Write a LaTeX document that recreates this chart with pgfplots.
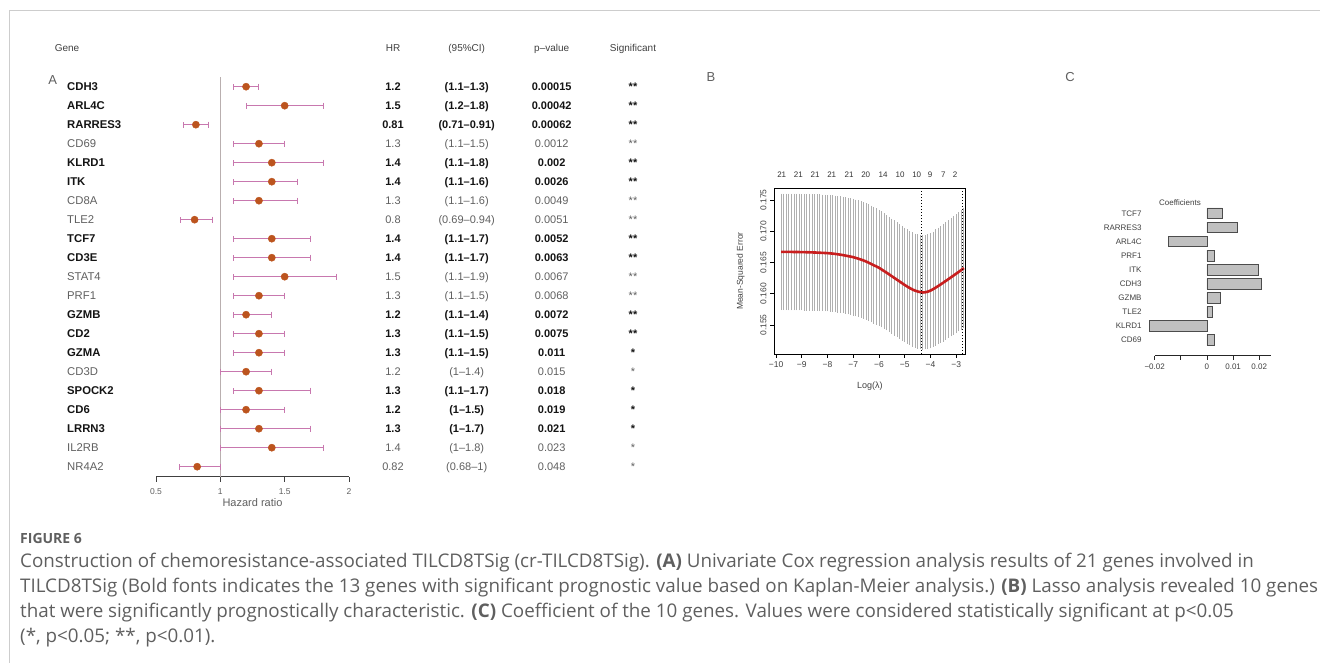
\documentclass[border=0pt]{standalone}
\usepackage{fontspec}
\setmainfont{Liberation Sans}
\newfontfamily\capfont{Open Sans}
\usepackage{pgfplots}
\usepackage{pgfplotstable}
\pgfplotsset{compat=1.18}

\definecolor{dotc}{RGB}{188,84,30}
\definecolor{barc}{RGB}{200,120,175}
\definecolor{txtg}{RGB}{95,95,95}
\definecolor{capg}{RGB}{95,95,95}
\definecolor{frameg}{RGB}{205,205,205}
\definecolor{redc}{RGB}{200,30,30}
\definecolor{bandg}{RGB}{175,175,175}
\definecolor{cbar}{RGB}{192,192,192}
\definecolor{vline}{RGB}{185,175,175}

% forest plot: row (21 = top), HR, lower, upper
\pgfplotstableread{
row hr lo hi
21 1.2 1.1 1.3
20 1.5 1.2 1.8
19 0.81 0.71 0.91
18 1.3 1.1 1.5
17 1.4 1.1 1.8
16 1.4 1.1 1.6
15 1.3 1.1 1.6
14 0.8 0.69 0.94
13 1.4 1.1 1.7
12 1.4 1.1 1.7
11 1.5 1.1 1.9
10 1.3 1.1 1.5
9 1.2 1.1 1.4
8 1.3 1.1 1.5
7 1.3 1.1 1.5
6 1.2 1.0 1.4
5 1.3 1.1 1.7
4 1.2 1.0 1.5
3 1.3 1.0 1.7
2 1.4 1.0 1.8
1 0.82 0.68 1.0
}\forest

% lasso CV curve: log(lambda), mean, half width
\pgfplotstableread{
x m e
-9.8 0.16670 0.0091
-9.7 0.16670 0.0091
-9.6 0.16670 0.0091
-9.5 0.16669 0.0091
-9.4 0.16669 0.0091
-9.3 0.16668 0.0091
-9.2 0.16668 0.0091
-9.1 0.16667 0.0091
-9.0 0.16666 0.0091
-8.9 0.16665 0.0091
-8.8 0.16664 0.0091
-8.7 0.16663 0.0091
-8.6 0.16661 0.0091
-8.5 0.16660 0.0091
-8.4 0.16658 0.0091
-8.3 0.16656 0.0091
-8.2 0.16654 0.0091
-8.1 0.16652 0.0091
-8.0 0.16650 0.0091
-7.9 0.16646 0.0091
-7.8 0.16642 0.0091
-7.7 0.16637 0.0091
-7.6 0.16631 0.0091
-7.5 0.16625 0.0091
-7.4 0.16618 0.0091
-7.3 0.16610 0.0091
-7.2 0.16602 0.0091
-7.1 0.16594 0.0091
-7.0 0.16585 0.0091
-6.9 0.16573 0.0091
-6.8 0.16560 0.0091
-6.7 0.16547 0.0091
-6.6 0.16532 0.0091
-6.5 0.16515 0.0091
-6.4 0.16496 0.0091
-6.3 0.16476 0.0091
-6.2 0.16455 0.0091
-6.1 0.16436 0.0091
-6.0 0.16415 0.00905
-5.9 0.16389 0.00905
-5.8 0.16362 0.00905
-5.7 0.16336 0.0090
-5.6 0.16308 0.0090
-5.5 0.16280 0.0090
-5.4 0.16252 0.0090
-5.3 0.16224 0.0090
-5.2 0.16196 0.0090
-5.1 0.16168 0.00895
-5.0 0.16140 0.00895
-4.9 0.16114 0.00895
-4.8 0.16090 0.0089
-4.7 0.16068 0.0089
-4.6 0.16050 0.0089
-4.5 0.16036 0.0089
-4.4 0.16026 0.0089
-4.3 0.16020 0.0089
-4.2 0.16024 0.0089
-4.1 0.16034 0.0090
-4.0 0.16050 0.0090
-3.9 0.16072 0.0090
-3.8 0.16097 0.0091
-3.7 0.16123 0.0091
-3.6 0.16150 0.0091
-3.5 0.16178 0.0092
-3.4 0.16206 0.0092
-3.3 0.16234 0.0092
-3.2 0.16263 0.0092
-3.1 0.16292 0.0093
-3.0 0.16321 0.0093
-2.9 0.16350 0.0093
-2.8 0.16380 0.0094
-2.7 0.16410 0.0094
}\cvtab

\begin{document}
\begin{tikzpicture}[x=1pt,y=1pt]
\useasboundingbox (0,0) rectangle (1320,663);
\draw[frameg, line width=1pt] (1320,652) -- (9.5,652) -- (9.5,0);

% ---------- panel A ----------
\begin{axis}[
  at={(156pt,586.3pt)}, anchor=north west,
  scale only axis, width=193pt, height=400pt,
  xmin=0.5, xmax=2, ymin=0.474, ymax=21.526,
  axis x line*=bottom, axis y line=none,
  xtick={0.5,1,1.5,2}, xticklabels={0.5,1,1.5,2},
  tick align=outside, major tick length=5pt,
  x axis line style={black!75, line width=0.8pt},
  xtick style={black!75, line width=0.8pt},
  ticklabel style={font=\fontsize{8.5}{9}\selectfont, text=txtg},
  xticklabel style={yshift=-3pt},
  xlabel={Hazard ratio}, xlabel style={font=\fontsize{11}{11}\selectfont, text=txtg, yshift=3pt},
  clip=false]
\addplot[vline, line width=0.8pt] coordinates {(1,0.474) (1,21.526)};
\addplot[only marks, mark=*, mark size=3.6pt, mark options={fill=dotc, draw=dotc},
  error bars/.cd, x dir=both, x explicit,
  error bar style={barc, line width=0.9pt},
  error mark options={barc, mark size=3pt, line width=0.9pt, rotate=90}]
  table[x=hr, y=row, x error plus expr=\thisrow{hi}-\thisrow{hr},
        x error minus expr=\thisrow{hr}-\thisrow{lo}] {\forest};
\end{axis}

\foreach \t/\x in {Gene/67, HR/393, (95\%CI)/466.7, p–value/551.7, Significant/633}{
  \node[font=\fontsize{10}{10}\selectfont, text=black!75, anchor=base] at (\x,{663-52}) {\t};
}
\node[font=\fontsize{13}{13}\selectfont, text=txtg] at (52.7,{663-80}) {A};
\node[font=\fontsize{13}{13}\selectfont, text=txtg] at (711,{663-77}) {B};
\node[font=\fontsize{13}{13}\selectfont, text=txtg] at (1070,{663-77}) {C};

\foreach \i/\g/\h/\c/\p/\s/\b in {
 1/CDH3/1.2/(1.1–1.3)/0.00015/**/1,
 2/ARL4C/1.5/(1.2–1.8)/0.00042/**/1,
 3/RARRES3/0.81/(0.71–0.91)/0.00062/**/1,
 4/CD69/1.3/(1.1–1.5)/0.0012/**/0,
 5/KLRD1/1.4/(1.1–1.8)/0.002/**/1,
 6/ITK/1.4/(1.1–1.6)/0.0026/**/1,
 7/CD8A/1.3/(1.1–1.6)/0.0049/**/0,
 8/TLE2/0.8/(0.69–0.94)/0.0051/**/0,
 9/TCF7/1.4/(1.1–1.7)/0.0052/**/1,
 10/CD3E/1.4/(1.1–1.7)/0.0063/**/1,
 11/STAT4/1.5/(1.1–1.9)/0.0067/**/0,
 12/PRF1/1.3/(1.1–1.5)/0.0068/**/0,
 13/GZMB/1.2/(1.1–1.4)/0.0072/**/1,
 14/CD2/1.3/(1.1–1.5)/0.0075/**/1,
 15/GZMA/1.3/(1.1–1.5)/0.011/*/1,
 16/CD3D/1.2/(1–1.4)/0.015/*/0,
 17/SPOCK2/1.3/(1.1–1.7)/0.018/*/1,
 18/CD6/1.2/(1–1.5)/0.019/*/1,
 19/LRRN3/1.3/(1–1.7)/0.021/*/1,
 20/IL2RB/1.4/(1–1.8)/0.023/*/0,
 21/NR4A2/0.82/(0.68–1)/0.048/*/0}{
  \pgfmathsetmacro\yy{663-(86.7+19*(\i-1)+4.1)}
  \ifnum\b=1 \def\st{\bfseries\color{black!92}}\else\def\st{\color{txtg}}\fi
  \node[anchor=base west, inner sep=0pt, font=\fontsize{11.3}{11.3}\selectfont] at (67,\yy) {\st\g};
  \node[anchor=base, inner sep=0pt, font=\fontsize{11}{11}\selectfont] at (393,\yy) {\st\h};
  \node[anchor=base, inner sep=0pt, font=\fontsize{11}{11}\selectfont] at (466.7,\yy) {\st\c};
  \node[anchor=base, inner sep=0pt, font=\fontsize{11}{11}\selectfont] at (551.7,\yy) {\st\p};
  \node[anchor=base, inner sep=0pt, font=\fontsize{11}{11}\selectfont] at (633,\yy) {\st\s};
}

% ---------- panel B ----------
\begin{axis}[
  at={(774pt,474.7pt)}, anchor=north west,
  scale only axis, width=191.7pt, height=165.7pt,
  xmin=-10.08, xmax=-2.63, ymin=0.15036, ymax=0.17687,
  axis lines=box, xtick pos=lower, ytick pos=left,
  tick align=outside, major tick length=4pt,
  axis line style={black, line width=0.9pt},
  tick style={black, line width=0.7pt},
  xtick={-10,-9,-8,-7,-6,-5,-4,-3},
  xticklabels={−10,−9,−8,−7,−6,−5,−4,−3},
  ytick={0.155,0.16,0.165,0.17,0.175},
  yticklabels={0.155,0.160,0.165,0.170,0.175},
  yticklabel style={rotate=90, anchor=south},
  ticklabel style={font=\fontsize{8.5}{9}\selectfont, text=black!75},
  xlabel={Log(λ)}, xlabel style={font=\fontsize{9}{9}\selectfont, text=black!75, yshift=-8pt},
  ylabel={Mean-Squared Error}, ylabel style={font=\fontsize{8.5}{9}\selectfont, text=black!75, yshift=9pt},
  clip=false]
\addplot[draw=none, mark=none, forget plot,
  error bars/.cd, y dir=both, y explicit,
  error bar style={bandg, line width=0.9pt},
  error mark options={bandg, mark size=1.45pt, line width=0.9pt}]
  table[x=x, y=m, y error=e] {\cvtab};
\addplot[redc, line width=2.6pt, mark=none] table[x=x, y=m] {\cvtab};
\addplot[black, line width=1pt, dotted] coordinates {(-4.33,0.15036) (-4.33,0.17687)};
\addplot[black, line width=1pt, dotted] coordinates {(-2.75,0.15036) (-2.75,0.17687)};
\end{axis}

\foreach \x/\n in {781.7/21, 798.3/21, 815/21, 831.7/21, 849/21, 865.7/20, 883/14, 900/10, 916.7/10, 930/9, 943.3/7, 955/2}{
  \node[font=\fontsize{8}{8}\selectfont, text=black!80] at (\x,{663-175}) {\n};
}

% ---------- panel C ----------
\begin{axis}[
  at={(1148.1pt,458.1pt)}, anchor=north west,
  scale only axis, width=124.5pt, height=150.8pt,
  xmin=-0.0225, xmax=0.0251, ymin=-0.116, ymax=10.6,
  scaled x ticks=false,
  axis x line*=bottom, axis y line*=left,
  x axis line style={draw=none}, y axis line style={draw=none},
  xtick={-0.02,-0.01,0,0.01,0.02},
  xticklabels={−0.02,,0,0.01,0.02},
  tick align=outside, major tick length=4pt,
  xtick style={black!85, line width=0.8pt},
  ytick={1,...,10},
  yticklabels={CD69,KLRD1,TLE2,GZMB,CDH3,ITK,PRF1,ARL4C,RARRES3,TCF7},
  ytick style={draw=none},
  yticklabel style={xshift=1pt},
  ticklabel style={font=\fontsize{8}{8}\selectfont, text=black!75},
  xticklabel style={yshift=-1pt},
  clip=false]
\addplot[black!85, line width=0.9pt] coordinates {(-0.02,-0.116) (0.0245,-0.116)};
\addplot[xbar, bar width=0.76, fill=cbar, draw=black!70, line width=0.8pt] coordinates {
  (0.00293,1) (-0.02204,2) (0.00204,3) (0.00497,4) (0.02064,5)
  (0.01962,6) (0.00268,7) (-0.01478,8) (0.01172,9) (0.00586,10)};
\end{axis}
\node[font=\fontsize{8}{8}\selectfont, text=black!75] at (1180,{663-202.7}) {Coefficients};

% ---------- caption ----------
\begin{scope}[every node/.style={anchor=base west, inner sep=0pt, text=capg}]
\node[font=\capfont\bfseries\fontsize{14}{14}\selectfont] at (20,{663-544}) {FIGURE 6};
\node[font=\capfont\fontsize{18.8}{18.8}\selectfont] at (20,{663-567.5}) {Construction of chemoresistance-associated TILCD8TSig (cr-TILCD8TSig). \textbf{(A)} Univariate Cox regression analysis results of 21 genes involved in};
\node[font=\capfont\fontsize{18.8}{18.8}\selectfont] at (20,{663-592.5}) {TILCD8TSig (Bold fonts indicates the 13 genes with significant prognostic value based on Kaplan-Meier analysis.) \textbf{(B)} Lasso analysis revealed 10 genes};
\node[font=\capfont\fontsize{18.8}{18.8}\selectfont] at (20,{663-617.5}) {that were significantly prognostically characteristic. \textbf{(C)} Coefficient of the 10 genes. Values were considered statistically significant at p<0.05};
\node[font=\capfont\fontsize{18.8}{18.8}\selectfont] at (20,{663-642.5}) {(*, p<0.05; **, p<0.01).};
\end{scope}
\end{tikzpicture}
\end{document}
